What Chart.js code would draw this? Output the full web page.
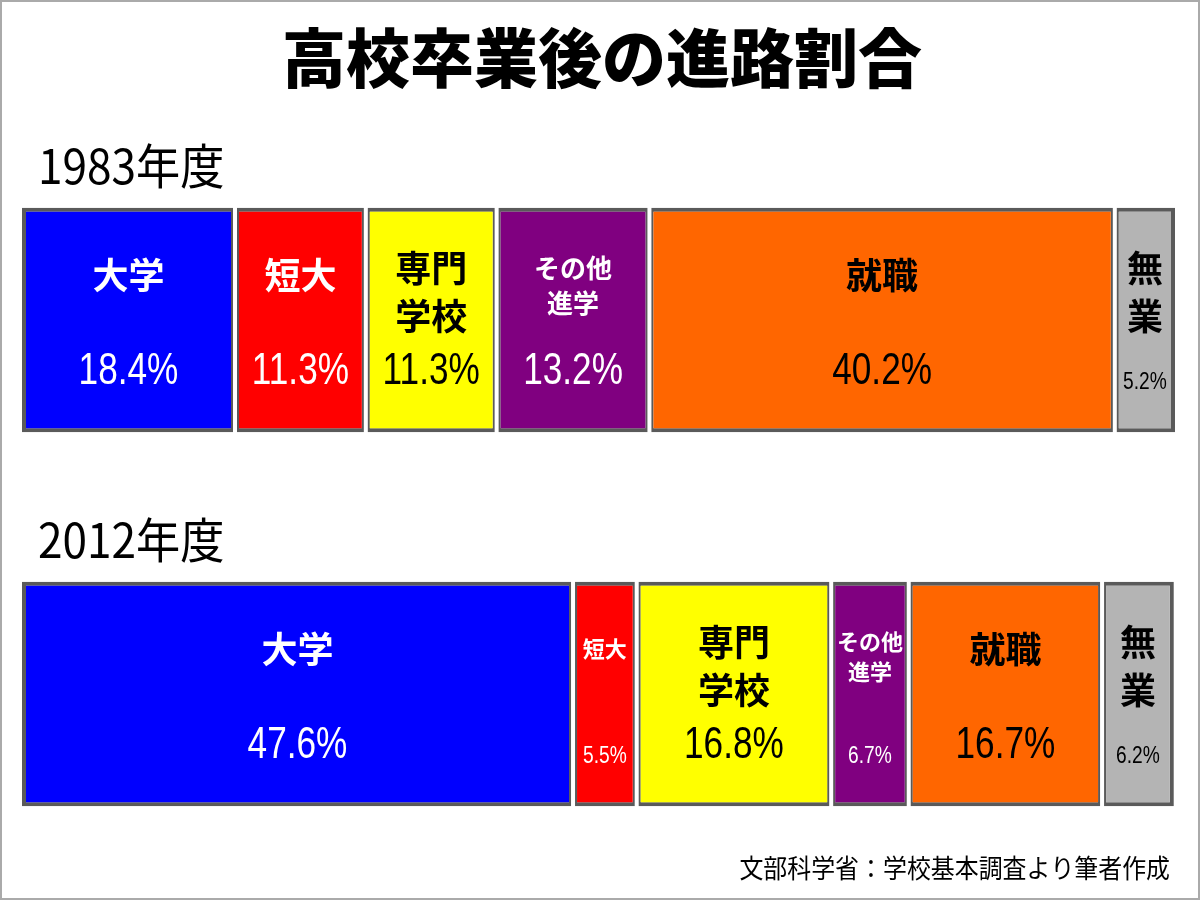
<!DOCTYPE html>
<html><head><meta charset="utf-8">
<script src="https://cdn.jsdelivr.net/npm/chart.js@4"></script>
<style>html,body{margin:0;background:#fff}#w{width:1200px;height:900px;position:relative;box-sizing:border-box;border:2px solid #aaa}</style>
</head><body><div id="w"><canvas id="c"></canvas></div>
<script>
const years = ["1983年度", "2012年度"];
const categories = ["大学", "短大", "専門\n学校", "その他\n進学", "就職", "無\n業"];
const values1983 = [18.4, 11.3, 11.3, 13.2, 40.2, 5.2];
const values2012 = [47.6, 5.5, 16.8, 6.7, 16.7, 6.2];
const colors = ["#0000ff", "#ff0000", "#ffff00", "#800080", "#ff6600", "#b4b4b4"];
const textColors = ["#fff", "#fff", "#000", "#fff", "#000", "#000"];
const titleText = "高校卒業後の進路割合";
const sourceText = "文部科学省：学校基本調査より筆者作成";

const FONT = '"Noto Sans CJK JP", sans-serif';
const NUMFONT = '"Liberation Sans", sans-serif';

const datasets = categories.map((c, i) => ({
  label: c,
  data: [values1983[i], values2012[i]],
  backgroundColor: colors[i],
  borderColor: "#5a5a5a",
  borderWidth: 4,
  borderSkipped: false,
  barPercentage: 1,
  categoryPercentage: 0.6
}));

function squeezed(ctx, text, x, y, sx) {
  ctx.save();
  ctx.translate(x, y);
  ctx.scale(sx, 1);
  ctx.fillText(text, 0, 0);
  ctx.restore();
}

const overlay = {
  id: "overlay",
  afterDatasetsDraw(chart) {
    const ctx = chart.ctx;
    ctx.save();
    ctx.fillStyle = "#000";
    ctx.textAlign = "center"; ctx.textBaseline = "middle";
    ctx.font = "900 64px " + FONT;
    ctx.fillText(titleText, 600, 56);
    ctx.textAlign = "left";
    ctx.font = "48px " + FONT;
    const m0 = chart.getDatasetMeta(0);
    m0.data.forEach((bar, j) => {
      const top = bar.y - bar.height / 2;
      squeezed(ctx, years[j], 36, top - 42, 0.92);
    });
    ctx.textAlign = "right";
    ctx.font = "26px " + FONT;
    squeezed(ctx, sourceText, 1168, 866, 0.92);
    chart.data.datasets.forEach((ds, i) => {
      const meta = chart.getDatasetMeta(i);
      meta.data.forEach((bar, j) => {
        const left = bar.base, right = bar.x;
        const w = right - left;
        const cy = bar.y, h = bar.height;
        if (i > 0) {
          ctx.fillStyle = "#fff";
          ctx.fillRect(left - 2, cy - h / 2 - 2, 4, h + 4);
        }
        const cx = (left + right) / 2;
        const small = w < 85;
        const lines = categories[i].split("\n");
        ctx.fillStyle = textColors[i];
        ctx.textAlign = "center"; ctx.textBaseline = "middle";
        const nameSize = small ? (i === 5 ? 36 : 22) : (i === 3 ? 26 : 36);
        ctx.font = "bold " + nameSize + "px " + FONT;
        if (lines.length === 1) {
          ctx.fillText(lines[0], cx, cy - 45);
        } else {
          const gap = nameSize * 1.35;
          ctx.fillText(lines[0], cx, cy - 52);
          ctx.fillText(lines[1], cx, cy - 52 + gap);
        }
        const v = ds.data[j].toFixed(1) + "%";
        ctx.font = (small ? 24 : 44) + "px " + NUMFONT;
        squeezed(ctx, v, cx, cy + (small ? 62 : 52), 0.8);
      });
    });
    ctx.restore();
  }
};

new Chart(document.getElementById("c"), {
  type: "bar",
  data: { labels: years, datasets },
  options: {
    indexAxis: "y",
    responsive: true, maintainAspectRatio: false, animation: false,
    layout: { padding: { top: 131, bottom: 17, left: 20, right: 23 } },
    scales: {
      x: { stacked: true, display: false, min: 0, max: 99.6 },
      y: { stacked: true, display: false }
    },
    plugins: { legend: { display: false }, tooltip: { enabled: false }, title: { display: false } }
  },
  plugins: [overlay]
});
</script></body></html>
